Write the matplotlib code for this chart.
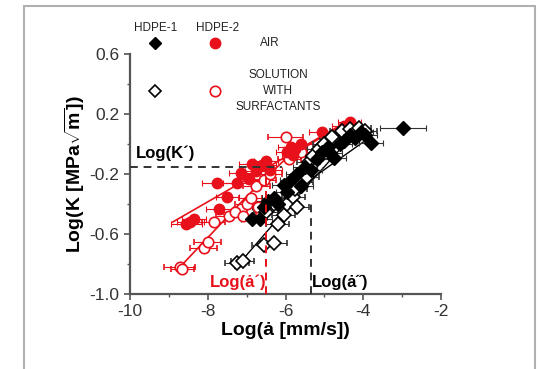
import numpy as np
import matplotlib
matplotlib.use('Agg')
import matplotlib.pyplot as plt
from matplotlib.patches import Rectangle
from matplotlib.ticker import MultipleLocator, FixedLocator

plt.rcParams['font.family'] = ['Liberation Sans', 'DejaVu Sans']
plt.rcParams['mathtext.fontset'] = 'custom'
plt.rcParams['mathtext.rm'] = 'Liberation Sans:bold'
plt.rcParams['mathtext.bf'] = 'Liberation Sans:bold'

RED = '#e8101a'

# HDPE-2 in air (red filled circles): log(da/dt), log(K), x error
h2_air_x = [-8.55, -8.45, -8.35, -7.75, -7.7, -7.5, -7.25, -7.15, -6.95, -6.85, -6.75,
            -6.6, -6.5, -6.4, -5.95, -5.85, -5.8, -5.75, -5.6, -5.05, -4.5, -4.35]
h2_air_y = [-0.53, -0.52, -0.50, -0.26, -0.43, -0.35, -0.26, -0.19, -0.23, -0.13, -0.18,
            -0.14, -0.11, -0.17, -0.05, -0.02, -0.07, -0.03, 0.0, 0.08, 0.12, 0.15]
h2_air_e = [0.4, 0.35, 0.3, 0.4, 0.35, 0.3, 0.35, 0.3, 0.3, 0.35, 0.3,
            0.35, 0.3, 0.3, 0.3, 0.35, 0.3, 0.3, 0.3, 0.35, 0.3, 0.3]

# HDPE-2 in surfactant solution (red open circles)
h2_sol_x = [-8.72, -8.65, -8.1, -8.0, -7.85, -7.45, -7.3, -7.1, -7.0, -6.9, -6.75,
            -6.7, -6.55, -6.4, -6.0, -5.9, -5.6]
h2_sol_y = [-0.82, -0.83, -0.69, -0.65, -0.52, -0.48, -0.45, -0.48, -0.40, -0.36, -0.28,
            -0.42, -0.24, -0.20, 0.05, -0.10, -0.05]
h2_sol_e = [0.4, 0.3, 0.35, 0.35, 0.3, 0.35, 0.3, 0.35, 0.3, 0.3, 0.35,
            0.3, 0.3, 0.3, 0.45, 0.3, 0.3]

# HDPE-1 in air (black filled diamonds)
h1_air_x = [-6.85, -6.65, -6.55, -6.45, -6.3, -6.2, -6.05, -5.95, -5.85, -5.7, -5.6, -5.5,
            -5.35, -5.2, -5.05, -4.9, -4.85, -4.75, -4.6, -4.5, -4.35, -4.2, -4.05, -3.95,
            -3.8, -2.98]
h1_air_y = [-0.50, -0.50, -0.42, -0.38, -0.36, -0.40, -0.27, -0.32, -0.24, -0.20, -0.28, -0.15,
            -0.17, -0.10, -0.05, -0.02, -0.06, -0.09, 0.0, 0.02, 0.06, 0.04, 0.08, 0.06,
            0.01, 0.105]
h1_air_e = [0.3] * 25 + [0.6]

# HDPE-1 in surfactant solution (black open diamonds)
h1_sol_x = [-7.25, -7.1, -6.55, -6.3, -6.2, -6.05, -6.5, -6.3, -5.95, -5.8, -5.75, -5.7,
            -5.6, -5.45, -5.4, -5.3, -5.15, -5.0, -4.8, -4.55, -4.35, -4.1, -3.95]
h1_sol_y = [-0.79, -0.78, -0.67, -0.66, -0.53, -0.47, -0.45, -0.40, -0.40, -0.35, -0.30, -0.42,
            -0.25, -0.22, -0.12, -0.08, -0.03, 0.0, 0.05, 0.09, 0.10, 0.11, 0.09]
h1_sol_e = [0.3, 0.3, 0.3, 0.35, 0.3, 0.3, 0.3, 0.3, 0.3, 0.3, 0.3, 0.3,
            0.3, 0.3, 0.3, 0.3, 0.3, 0.3, 0.3, 0.3, 0.3, 0.3, 0.3]

# fitted trend lines
fit_h2_air_x = [-8.9, -4.35]
fit_h2_air_y = [-0.52, 0.16]
fit_h2_sol_x = [-8.75, -7.0, -6.0, -4.4]
fit_h2_sol_y = [-0.83, -0.35, -0.10, 0.15]
fit_h1_air_x = [-6.9, -3.8]
fit_h1_air_y = [-0.52, 0.05]
fit_h1_sol_x = [-7.3, -6.1, -4.2]
fit_h1_sol_y = [-0.83, -0.47, 0.08]

# characteristic values
logK_star = -0.156
loga_red = -6.51
loga_black = -5.34

yticks = [-1.0, -0.6, -0.2, 0.2, 0.6]
yminor = [-0.8, -0.4, 0.0, 0.4]

fig = plt.figure(figsize=(5.38, 3.69), dpi=100)
fig.patches.append(Rectangle((24 / 538, -0.01), 511 / 538, 1 - 6 / 369 + 0.01,
                             transform=fig.transFigure, fill=False,
                             edgecolor='#b0b0b0', linewidth=1.5))
ax = fig.add_axes([130 / 538, 75 / 369, 311 / 538, 240 / 369])

ax.plot(fit_h2_air_x, fit_h2_air_y, color=RED, lw=1.2, zorder=2)
ax.plot(fit_h2_sol_x, fit_h2_sol_y, color=RED, lw=1.2, zorder=2)
ax.plot(fit_h1_air_x, fit_h1_air_y, color='black', lw=1.0, zorder=2)
ax.plot(fit_h1_sol_x, fit_h1_sol_y, color='black', lw=1.0, zorder=2)

eb = dict(linestyle='none', capsize=2, elinewidth=0.8, capthick=0.8, zorder=3)
ax.errorbar(h2_sol_x, h2_sol_y, xerr=h2_sol_e, marker='o', ms=7.5, mfc='white', mec=RED,
            mew=1.2, ecolor=RED, **eb)
ax.errorbar(h2_air_x, h2_air_y, xerr=h2_air_e, marker='o', ms=7.5, mfc=RED, mec=RED,
            ecolor=RED, **eb)
ax.errorbar(h1_sol_x, h1_sol_y, xerr=h1_sol_e, marker='D', ms=7, mfc='white', mec='black',
            mew=1.2, ecolor='#333333', **eb)
ax.errorbar(h1_air_x, h1_air_y, xerr=h1_air_e, marker='D', ms=7, mfc='black', mec='black',
            ecolor='#333333', **eb)

# guide lines
ax.plot([-10, -6.1], [logK_star, logK_star], color='#333333', ls=(0, (4, 3)), lw=1.4, zorder=4)
ax.plot([loga_red, loga_red], [-1.0, logK_star], color=RED, ls=(0, (4, 3)), lw=1.4, zorder=4)
ax.plot([loga_black, loga_black], [-1.0, -0.39], color='#333333', ls=(0, (4, 3)), lw=1.4, zorder=4)

ax.text(-9.85, -0.06, "Log(K\u00b4)", fontsize=12, fontweight='bold', va='center')
ax.text(-6.5, -0.92, "Log(\u0227\u00b4)", fontsize=12, fontweight='bold', color=RED,
        va='center', ha='right')
ax.text(-5.32, -0.92, "Log(\u0227\u02dd)", fontsize=12, fontweight='bold', va='center')

# legend drawn by hand above the axes
ax.text(-9.33, 0.773, 'HDPE-1', fontsize=8.5, ha='center', va='center', color='#222222')
ax.text(-7.74, 0.773, 'HDPE-2', fontsize=8.5, ha='center', va='center', color='#222222')
ax.plot([-9.36], [0.673], marker='D', ms=6.5, color='black', clip_on=False)
ax.plot([-7.81], [0.673], marker='o', ms=7.5, color=RED, clip_on=False)
ax.plot([-9.36], [0.353], marker='D', ms=6.5, mfc='white', mec='black', mew=1.2, clip_on=False)
ax.plot([-7.81], [0.353], marker='o', ms=7.5, mfc='white', mec=RED, mew=1.2, clip_on=False)
ax.text(-6.4, 0.673, 'AIR', fontsize=8.5, ha='center', va='center', color='#222222')
ax.text(-6.19, 0.353, 'SOLUTION\nWITH\nSURFACTANTS', fontsize=8.5, ha='center', va='center',
        color='#222222', linespacing=1.45)

ax.set_xlim(-10, -2)
ax.set_ylim(-1.0, 0.6)
ax.xaxis.set_major_locator(MultipleLocator(2))
ax.xaxis.set_minor_locator(MultipleLocator(1))
ax.yaxis.set_major_locator(FixedLocator(yticks))
ax.yaxis.set_minor_locator(FixedLocator(yminor))
ax.yaxis.set_major_formatter(plt.FuncFormatter(lambda v, p: f'{v:.1f}'))
ax.xaxis.set_major_formatter(plt.FuncFormatter(lambda v, p: f'{v:.0f}'))
for s in ['top', 'right']:
    ax.spines[s].set_visible(False)
for s in ['left', 'bottom']:
    ax.spines[s].set_color('#555555')
    ax.spines[s].set_linewidth(1.6)
ax.tick_params(which='both', direction='out', color='#555555', labelsize=12.5, labelcolor='#333333')
ax.tick_params(which='major', length=4, width=1.2)
ax.tick_params(which='minor', length=2.5, width=1.0)

ax.set_xlabel('Log(\u0227 [mm/s])', fontsize=14, fontweight='bold', labelpad=2)
ax.set_ylabel('Log(K [MPa$\\sqrt{\\mathrm{m}}$])', fontsize=14, fontweight='bold', labelpad=2)

fig.savefig('out.png', dpi=100)
